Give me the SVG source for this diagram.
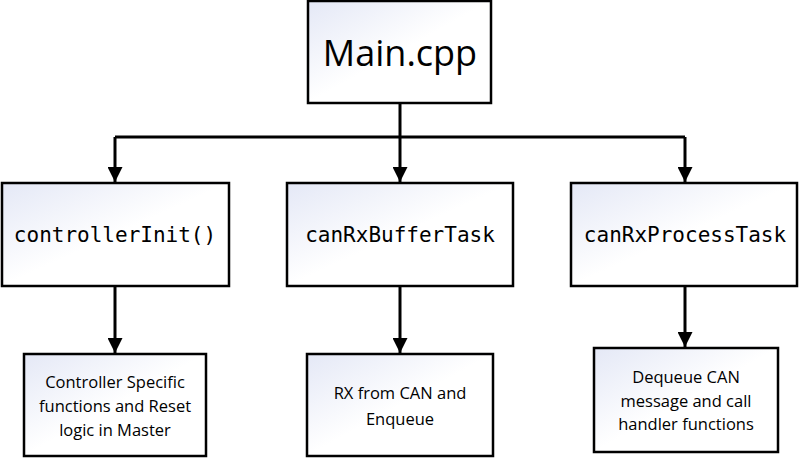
<svg xmlns="http://www.w3.org/2000/svg" width="800" height="458" viewBox="0 0 800 458">
<style>
.box{fill:url(#g);stroke:#000;stroke-width:2.5}
.ln{stroke:#000;stroke-width:3;fill:none}
.mono{font-family:"DejaVu Sans Mono","Liberation Mono",monospace;font-size:21px;text-anchor:middle;fill:#000}
.sans{font-family:"Open Sans","Liberation Sans",sans-serif;font-size:16.5px;text-anchor:middle;fill:#000}
</style>
<defs>
<linearGradient id="g" x1="0" y1="0" x2="1" y2="1">
<stop offset="0" stop-color="#e4e8f6"/><stop offset="0.5" stop-color="#ffffff"/><stop offset="1" stop-color="#ffffff"/>
</linearGradient>
<marker id="a" markerWidth="6" markerHeight="5" refX="5" refY="2.5" orient="auto" markerUnits="strokeWidth">
<path d="M0,0L5,2.5L0,5Z" fill="#000"/>
</marker>
</defs>
<g id="connectors">
<path class="ln" d="M400,103V137"/>
<path class="ln" d="M115,137H685"/>
<path class="ln" d="M115,137V182" marker-end="url(#a)"/>
<path class="ln" d="M400,137V182" marker-end="url(#a)"/>
<path class="ln" d="M685,137V182" marker-end="url(#a)"/>
<path class="ln" d="M115,286V353" marker-end="url(#a)"/>
<path class="ln" d="M400,286V353" marker-end="url(#a)"/>
<path class="ln" d="M685,286V347" marker-end="url(#a)"/>
</g>
<g id="main"><rect class="box" x="308" y="1" width="183" height="102"/>
<text x="400" y="66" font-family="Open Sans, Liberation Sans, sans-serif" font-size="36" text-anchor="middle">Main.cpp</text></g>
<g id="controllerInit"><rect class="box" x="2" y="183" width="227" height="103"/><text class="mono" x="115" y="242">controllerInit()</text></g>
<g id="canRxBufferTask"><rect class="box" x="287" y="183" width="226" height="103"/><text class="mono" x="400" y="242">canRxBufferTask</text></g>
<g id="canRxProcessTask"><rect class="box" x="571" y="183" width="226" height="103"/><text class="mono" x="685" y="242">canRxProcessTask</text></g>
<g id="ctrlDesc"><rect class="box" x="24" y="354" width="182" height="102"/>
<text class="sans" x="115" y="388">Controller Specific</text><text class="sans" x="115" y="412">functions and Reset</text><text class="sans" x="115" y="436">logic in Master</text></g>
<g id="bufDesc"><rect class="box" x="307" y="354" width="186" height="102"/>
<text class="sans" x="400" y="399">RX from CAN and</text><text class="sans" x="400" y="425">Enqueue</text></g>
<g id="procDesc"><rect class="box" x="594" y="348" width="184" height="104"/>
<text class="sans" x="686" y="383">Dequeue CAN</text><text class="sans" x="686" y="407">message and call</text><text class="sans" x="686" y="430">handler functions</text></g>
</svg>
